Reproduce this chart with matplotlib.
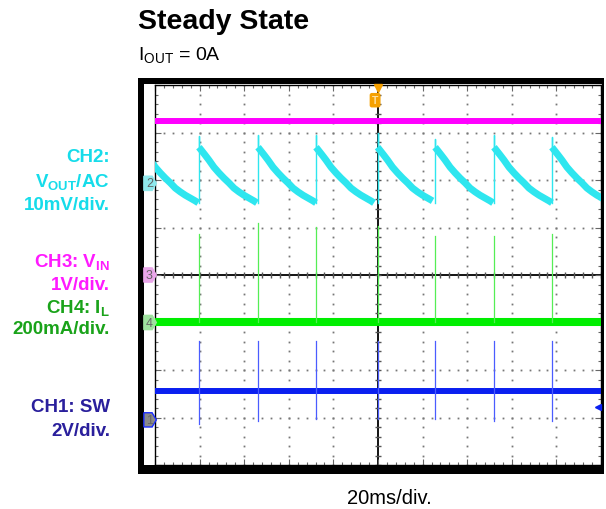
import numpy as np
import matplotlib
matplotlib.use("Agg")
import matplotlib.pyplot as plt
from matplotlib.patches import Rectangle, Polygon

plt.rcParams['font.family'] = ['Liberation Sans', 'DejaVu Sans']
plt.rcParams['mathtext.fontset'] = 'custom'
plt.rcParams['mathtext.rm'] = 'Liberation Sans'
plt.rcParams['mathtext.bf'] = 'Liberation Sans:bold'
plt.rcParams['mathtext.it'] = 'Liberation Sans:italic'

# Scope data (x in ms, 20 ms/div; y in divisions)
jump_times = [19.7, 46.2, 72.2, 99.8, 125.6, 152.0, 178.0]
cycle_starts = [-6.6] + jump_times
ramp_dt = [0, 1.35, 2.69, 4.48, 6.73, 8.97, 11.21, 13.45, 15.69, 17.94,
           20.18, 22.42, 24.66, 26.0]
ramp_v = [2.69, 2.61, 2.53, 2.42, 2.27, 2.15, 2.04, 1.94, 1.83, 1.75,
          1.68, 1.62, 1.56, 1.52]
vout_spike = [2.93, 2.95, 2.95, 2.99, 2.86, 2.95, 2.90]

vin_level = 3.24
il_level = -0.99
il_spike = [0.86, 1.09, 1.01, 1.03, 0.82, 0.82, 0.86]
sw_level = -2.44
sw_spike_up = [-1.39, -1.39, -1.39, -1.39, -1.39, -1.39, -1.39]
sw_spike_down = [-3.13, -3.07, -3.03, -3.03, -3.03, -3.07, -3.07]

# channel ground markers: (label, level, fill, edge)
markers = [("2", 1.93, "#8fe8ec", "#8fe8ec"),
           ("3", 0.0, "#e9a6e9", "#e9a6e9"),
           ("4", -1.0, "#9ee29e", "#9ee29e"),
           ("1", -3.05, "#8a8a8a", "#1a2cff")]

W, H = 606, 510
fig = plt.figure(figsize=(W / 100, H / 100), dpi=100)

# black scope frame
fig.add_artist(Rectangle((138 / W, 1 - 475 / H), 466 / W, 396 / H,
                         transform=fig.transFigure, facecolor="black",
                         edgecolor="none", zorder=-2))
fig.add_artist(Rectangle((144 / W, 1 - 466 / H), 458 / W, 381 / H,
                         transform=fig.transFigure, facecolor="white",
                         edgecolor="none", zorder=-1))

ax = fig.add_axes([155 / W, 1 - 466 / H, 446 / W, 380 / H])
ax.set_xlim(0, 200)
ax.set_ylim(-4, 4)

# graticule
minor_y = np.arange(-4, 4.01, 0.2)
minor_x = np.arange(0, 200.1, 4)
for gx in range(20, 200, 20):
    if gx == 100:
        continue
    ax.plot([gx] * len(minor_y), minor_y, ls="none", marker="s", ms=1.3,
            mec="none", mfc="#777777", zorder=1)
for gy in range(-3, 4):
    if gy == 0:
        continue
    ax.plot(minor_x, [gy] * len(minor_x), ls="none", marker="s", ms=1.3,
            mec="none", mfc="#777777", zorder=1)
ax.axhline(0, color="black", lw=1.3, zorder=1)
ax.axvline(100, color="black", lw=1.3, zorder=1)
ax.plot(minor_x, [0] * len(minor_x), ls="none", marker="|", ms=5,
        mew=1.0, color="#555555", zorder=1)
ax.plot([100] * len(minor_y), minor_y, ls="none", marker="_", ms=5,
        mew=1.0, color="#555555", zorder=1)

ax.set_xticks(np.arange(0, 201, 20))
ax.set_xticks(minor_x, minor=True)
ax.set_yticks(np.arange(-4, 5, 1))
ax.set_yticks(minor_y, minor=True)
ax.tick_params(which="both", direction="in", top=True, right=True,
               labelbottom=False, labelleft=False, color="#666666",
               width=0.8)
ax.tick_params(which="major", length=4)
ax.tick_params(which="minor", length=2.5)
for sp in ax.spines.values():
    sp.set_color("black")
    sp.set_linewidth(1.0)

# CH3 VIN
ax.plot([0, 200], [vin_level, vin_level], color="#ff00ff", lw=4.3,
        solid_capstyle="butt", zorder=3)

# CH2 VOUT ripple
ends = cycle_starts[1:] + [230]
for i, s in enumerate(cycle_starts):
    n = ends[i]
    t = [s + d for d in ramp_dt if s + d <= n]
    v = ramp_v[:len(t)]
    ax.plot(t, v, color="#2ee6ef", lw=5, solid_capstyle="butt", zorder=3)
for j, tj in enumerate(jump_times):
    ax.plot([tj, tj, tj], [ramp_v[-1], vout_spike[j], ramp_v[0]],
            color="#2ee6ef", lw=1.0, zorder=3)

# CH4 IL
ax.plot([0, 200], [il_level, il_level], color="#00ee00", lw=5.8,
        solid_capstyle="butt", zorder=3)
for j, tj in enumerate(jump_times):
    ax.plot([tj, tj], [il_level, il_spike[j]], color="#55ee55", lw=0.9,
            zorder=3)

# CH1 SW
ax.plot([0, 200], [sw_level, sw_level], color="#0a1ff0", lw=4.3,
        solid_capstyle="butt", zorder=3)
for j, tj in enumerate(jump_times):
    ax.plot([tj, tj], [sw_spike_down[j], sw_spike_up[j]], color="#4a5cff",
            lw=0.9, zorder=3)

# channel ground markers on the left edge
for lab, lvl, fc, ec in markers:
    poly = Polygon([(-5.0, lvl - 0.15), (-1.3, lvl - 0.15), (0.6, lvl),
                    (-1.3, lvl + 0.15), (-5.0, lvl + 0.15)],
                   closed=True, facecolor=fc, edgecolor=ec, lw=1.0,
                   clip_on=False, zorder=5)
    ax.add_patch(poly)
    ax.text(-2.5, lvl, lab, ha="center", va="center", fontsize=9,
            color="#666666", clip_on=False, zorder=6)

# trigger marker
ax.plot([99.8], [3.93], marker="v", ms=6, color="#f5a000", clip_on=False,
        zorder=6)
ax.text(98.7, 3.68, "T", ha="center", va="center", fontsize=7.5,
        color="#ffe0a0", fontweight="bold",
        bbox=dict(boxstyle="round,pad=0.15", fc="#f5a000", ec="#f5a000"),
        zorder=6)
# level arrow on right
ax.plot([198.6], [-2.78], marker="<", ms=5, color="#0a1ff0", clip_on=False,
        zorder=6)

# titles
fig.text(138 / W, 1 - 29 / H, "Steady State", fontsize=20.5,
         fontweight="bold", ha="left", va="baseline")
fig.text(138 / W, 1 - 60 / H, r"I$_{\mathrm{OUT}}$ = 0A", fontsize=14,
         ha="left", va="baseline")
fig.text(389 / W, 1 - 504 / H, "20ms/div.", fontsize=14.5, ha="center",
         va="baseline")

# channel labels
labels = [
    ("CH2:", 158, "#16dcea"),
    (r"$\mathbf{V_{OUT}}$/AC", 182, "#16dcea"),
    ("10mV/div.", 206, "#16dcea"),
    (r"CH3: $\mathbf{V_{IN}}$", 262, "#ff1aff"),
    ("1V/div.", 286, "#ff1aff"),
    (r"CH4: $\mathbf{I_{L}}$", 308, "#1aa31a"),
    ("200mA/div.", 330, "#1aa31a"),
    ("CH1: SW", 408, "#2a1f9c"),
    ("2V/div.", 432, "#2a1f9c"),
]
for txt, y, c in labels:
    fig.text(110 / W, 1 - y / H, txt, fontsize=13.5, fontweight="bold",
             color=c, ha="right", va="center")

fig.savefig("out.png", dpi=100)
